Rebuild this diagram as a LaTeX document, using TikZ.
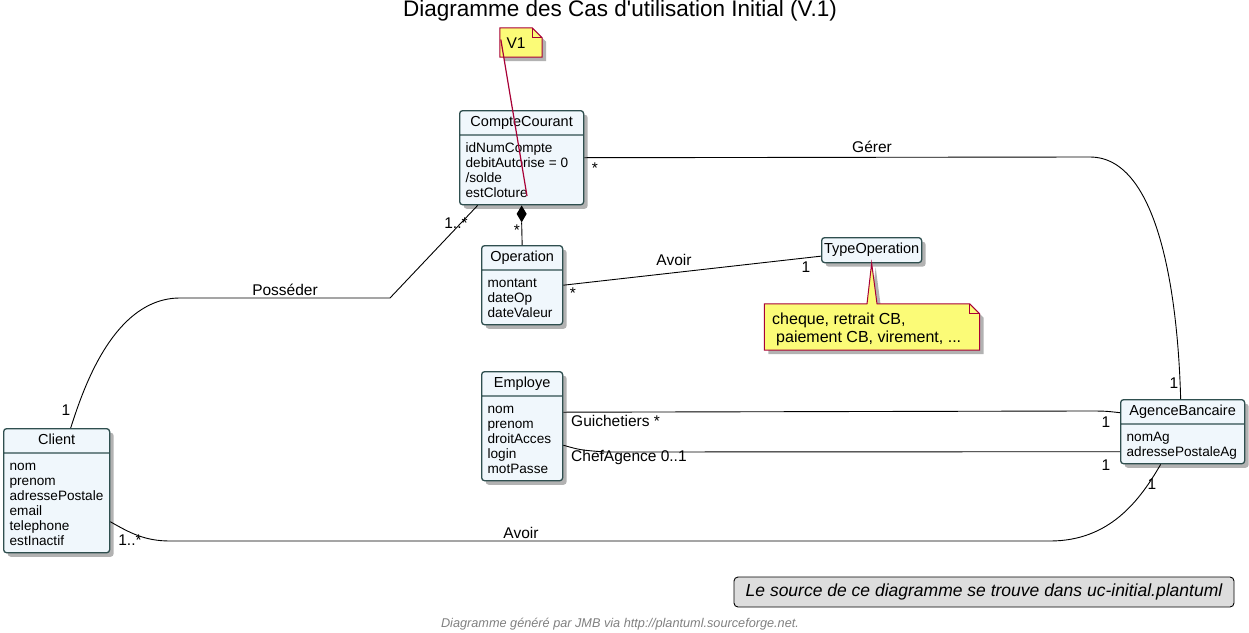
\documentclass[tikz,border=0pt]{standalone}
\usepackage{fontspec}
\setmainfont{Liberation Sans}
\usetikzlibrary{shapes.multipart, shadows}
\definecolor{umlfill}{RGB}{240,247,252}
\definecolor{umlline}{RGB}{47,79,79}
\definecolor{notefill}{RGB}{251,251,119}
\definecolor{noteline}{RGB}{168,0,54}
\definecolor{footfill}{RGB}{221,221,221}
% hauteurs fixes des lignes de classe
\newcommand{\nomstrut}{\fontsize{14.5}{15}\selectfont\rule[-4pt]{0pt}{15pt}}
\newcommand{\hautl}{\rule{0pt}{12.5pt}}
\newcommand{\basl}{\rule[-3pt]{0pt}{3pt}}

\begin{document}
\begin{tikzpicture}[x=1pt, y=-1pt,
    ombre/.style={drop shadow={shadow xshift=4pt, shadow yshift=-4pt, opacity=.3, fill=black}},
    classe/.style={rectangle split, rectangle split parts=2, draw=umlline, line width=1.3pt,
                   fill=umlfill, rounded corners=3pt, anchor=north west, align=left,
                   rectangle split part align={center,left}, inner xsep=6pt, inner ysep=4pt,
                   font=\fontsize{13.6}{15}\selectfont, ombre},
    simple/.style={draw=umlline, line width=1.3pt, fill=umlfill, rounded corners=3pt,
                   anchor=north west, inner sep=2pt, font=\fontsize{14.5}{15}\selectfont, ombre},
    lien/.style={draw=black, line width=.9pt},
    lbl/.style={font=\fontsize{15.5}{17}\selectfont, inner sep=1pt},
    note/.style={fill=notefill, draw=noteline, line width=1pt, ombre},
    notelien/.style={draw=noteline, line width=1.2pt}
  ]
    \useasboundingbox (0,0) rectangle (1249,632);
    \node[font=\fontsize{22.5}{24}\selectfont] (titre) at (620,11) {Diagramme des Cas d\textquotesingle utilisation Initial (V.1)};

    % classes
    \node[classe, minimum width=124] (cc) at (459,110)
      {\nomstrut CompteCourant \nodepart{two} \hautl idNumCompte\\debitAutorise = 0\\/solde\\estCloture\basl};
    \node[classe, minimum width=81] (op) at (481,245)
      {\nomstrut Operation \nodepart{two} \hautl montant\\dateOp\\dateValeur\basl};
    \node[simple, minimum width=100, minimum height=25] (type) at (821,237) {TypeOperation};
    \node[classe, minimum width=81] (emp) at (481,371)
      {\nomstrut Employe \nodepart{two} \hautl nom\\prenom\\droitAcces\\login\\motPasse\basl};
    \node[classe, minimum width=106] (client) at (3,428)
      {\nomstrut Client \nodepart{two} \hautl nom\\prenom\\adressePostale\\email\\telephone\\estInactif\basl};
    \node[classe, minimum width=124] (ab) at (1120,399)
      {\nomstrut AgenceBancaire \nodepart{two} \hautl nomAg\\adressePostaleAg\basl};

    % notes
    \node[minimum width=42, minimum height=29, inner sep=0pt] (v1) at (521,42.5) {};
    \path[note] (v1.south west) -- (v1.north west) -- ([xshift=-10pt]v1.north east)
      -- ([yshift=-10pt]v1.north east) -- (v1.south east) -- cycle;
    \draw[noteline, line width=.8pt] ([xshift=-10pt]v1.north east) |- ([yshift=-10pt]v1.north east);
    \node[font=\fontsize{15.5}{17}\selectfont] (v1txt) at (516,43) {V1};
    \coordinate (estclo) at (527,196);
    \draw[notelien] ([xshift=1pt, yshift=3pt]v1.west) -- (estclo);

    \node[minimum width=215, minimum height=46, inner sep=0pt] (notetype) at (872,327) {};
    \path[note] (notetype.south west) -- (notetype.north west) -- ([xshift=-5pt]notetype.north)
      -- (type.south) -- ([xshift=5pt]notetype.north) -- ([xshift=-10pt]notetype.north east)
      -- ([yshift=-10pt]notetype.north east) -- (notetype.south east) -- cycle;
    \draw[noteline, line width=.8pt] ([xshift=-10pt]notetype.north east) |- ([yshift=-10pt]notetype.north east);
    \node[anchor=west, align=left, font=\fontsize{16}{18}\selectfont, inner sep=0pt] (notetxt) at (772,329)
      {cheque, retrait CB,\\\hspace{4pt}paiement CB, virement, ...};

    % associations
    \draw[lien] (cc.east) -- (1090,157) .. controls (1160,157) and (1178,300) .. ([xshift=-2pt]ab.north);
    \draw[lien] ([xshift=-44pt]cc.south) -- (390,298) -- (180,298)
      .. controls (110,298) and (80,400) .. ([xshift=14pt]client.north);
    \fill (cc.south) -- ++(5,8.5) -- ++(-5,8.5) coordinate (losange) -- ++(-5,-8.5) -- cycle;
    \draw[lien] (losange) -- (op.north);
    \draw[lien] (op.east) -- ([yshift=-6pt]type.west);
    \draw[lien] ([yshift=14pt]emp.east) -- (1085,411) .. controls (1105,411) .. ([yshift=19pt]ab.west);
    \draw[lien] ([yshift=-19pt]emp.east) .. controls (580,450) .. (605,452) -- ([yshift=-20pt]ab.west);
    \draw[lien] ([yshift=-31pt]client.east) .. controls (130,533) and (145,541) .. (170,541) -- (1050,541)
      .. controls (1110,541) and (1140,500) .. ([xshift=-22pt]ab.south);

    % etiquettes
    \node[lbl] (gerer) at (872,147) {Gérer};
    \node[lbl] (gerercc) at (595,168) {*};
    \node[lbl] (gererab) at (1174,383) {1};
    \node[lbl] (posseder) at (285,290) {Posséder};
    \node[lbl] (possedercc) at (456,223) {1..*};
    \node[lbl] (possedercl) at (66,410) {1};
    \node[lbl] (compop) at (517,230) {*};
    \node[lbl] (avoirtype) at (674,260) {Avoir};
    \node[lbl] (avoirop) at (573,293) {*};
    \node[lbl] (avoirto) at (806,267) {1};
    \node[lbl, anchor=west] (guich) at (570,421) {Guichetiers *};
    \node[lbl] (guichab) at (1106,422) {1};
    \node[lbl, anchor=west] (chef) at (570,457) {ChefAgence 0..1};
    \node[lbl] (chefab) at (1106,465) {1};
    \node[lbl] (avoircl) at (521,533) {Avoir};
    \node[lbl] (avoirclm) at (130,540) {1..*};
    \node[lbl] (avoirab) at (1152,484) {1};

    % pied
    \node[draw=black, line width=.9pt, fill=footfill, rounded corners=4pt, minimum width=500, minimum height=30,
          font=\fontsize{17.5}{19}\selectfont\itshape] (source) at (984,592)
      {Le source de ce diagramme se trouve dans uc-initial.plantuml};
    \node[text=gray, font=\fontsize{12.7}{14}\selectfont\itshape] (genere) at (620,624)
      {Diagramme généré par JMB via http://plantuml.sourceforge.net.};
  \end{tikzpicture}
\end{document}
